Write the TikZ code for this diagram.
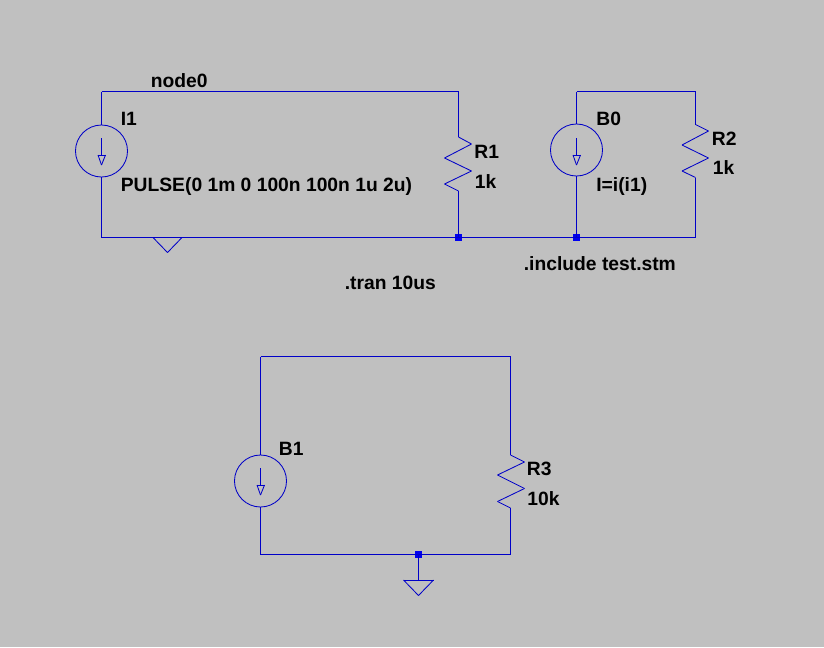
\documentclass[tikz,border=0pt]{standalone}
\usepackage{fontspec}
\setmainfont{Liberation Sans}
\definecolor{Panel}{HTML}{C0C0C0}
\definecolor{Wire}{HTML}{0000C8}
\definecolor{Dot}{HTML}{0000F0}
\tikzstyle{none}=[inner sep=0pt]
\tikzstyle{simple}=[-,draw=Wire,line width=1.3pt]
\tikzstyle{part}=[-,draw=Wire,line width=0.6pt]
\tikzstyle{source}=[circle,draw=Wire,line width=0.6pt,inner sep=0pt,minimum size=1.3cm]
\tikzstyle{dot}=[rectangle,fill=Dot,inner sep=0pt,minimum size=0.18cm]
\tikzstyle{label}=[inner sep=0pt,anchor=base west,font=\bfseries\fontsize{13.7}{15}\selectfont,text=black,xshift=-0.3pt,yshift=-0.5pt]

\begin{document}
\begin{tikzpicture}[x=0.025cm,y=-0.025cm]
  \useasboundingbox (0,0) rectangle (824,647);
  \fill [Panel] (0,0) rectangle (824,647);
  % top left loop
  \node [style=none] (0) at (101.5, 91.5) {};
  \node [style=none] (1) at (458.5, 91.5) {};
  \node [style=none] (2) at (101.5, 237.5) {};
  \node [style=dot] (3) at (458.5, 237.5) {};
  \node [style=source] (4) at (101.5, 151) {};
  \node [style=none] (5) at (101.5, 138) {};
  \node [style=none] (6) at (101.5, 155) {};
  \node [style=none] (7) at (98, 155) {};
  \node [style=none] (8) at (105.5, 155) {};
  \node [style=none] (9) at (101.5, 165) {};
  \node [style=none] (10) at (153, 237.5) {};
  \node [style=none] (11) at (167.5, 252.5) {};
  \node [style=none] (12) at (182, 237.5) {};
  \node [style=none] (13) at (458.5, 137) {};
  \node [style=none] (14) at (471.5, 144) {};
  \node [style=none] (15) at (444.5, 158) {};
  \node [style=none] (16) at (471.5, 171) {};
  \node [style=none] (17) at (444.5, 184) {};
  \node [style=none] (18) at (458.5, 191) {};
  % top right loop
  \node [style=dot] (19) at (576.5, 237.5) {};
  \node [style=none] (20) at (576.5, 91.5) {};
  \node [style=none] (21) at (695.5, 91.5) {};
  \node [style=none] (22) at (695.5, 237.5) {};
  \node [style=source] (23) at (576.5, 150) {};
  \node [style=none] (24) at (576.5, 138) {};
  \node [style=none] (25) at (576.5, 155) {};
  \node [style=none] (26) at (573, 155) {};
  \node [style=none] (27) at (580.5, 155) {};
  \node [style=none] (28) at (576.5, 165) {};
  \node [style=none] (29) at (695.5, 124.5) {};
  \node [style=none] (30) at (708.5, 131) {};
  \node [style=none] (31) at (682, 145) {};
  \node [style=none] (32) at (708.5, 158) {};
  \node [style=none] (33) at (682, 171) {};
  \node [style=none] (34) at (695.5, 177.5) {};
  % bottom loop
  \node [style=none] (35) at (260.5, 356.5) {};
  \node [style=none] (36) at (510.5, 356.5) {};
  \node [style=none] (37) at (260.5, 554.5) {};
  \node [style=none] (38) at (510.5, 554.5) {};
  \node [style=dot] (39) at (418.5, 554.5) {};
  \node [style=source] (40) at (260.5, 481) {};
  \node [style=none] (41) at (260.5, 468) {};
  \node [style=none] (42) at (260.5, 485) {};
  \node [style=none] (43) at (257, 485) {};
  \node [style=none] (44) at (264.5, 485) {};
  \node [style=none] (45) at (260.5, 495) {};
  \node [style=none] (46) at (510.5, 455) {};
  \node [style=none] (47) at (524.5, 462) {};
  \node [style=none] (48) at (497.5, 475) {};
  \node [style=none] (49) at (524.5, 488.5) {};
  \node [style=none] (50) at (497.5, 501.5) {};
  \node [style=none] (51) at (510.5, 508) {};
  \node [style=none] (52) at (418.5, 580) {};
  \node [style=none] (53) at (403.5, 580) {};
  \node [style=none] (54) at (433.5, 580) {};
  \node [style=none] (55) at (418.5, 595.5) {};
  % texts
  \node [style=label] (56) at (151, 86.5) {node0};
  \node [style=label] (57) at (121, 125) {I1};
  \node [style=label] (58) at (121, 191) {PULSE(0 1m 0 100n 100n 1u 2u)};
  \node [style=label] (59) at (474.5, 157.5) {R1};
  \node [style=label] (60) at (475, 187.5) {1k};
  \node [style=label] (61) at (596.5, 124.5) {B0};
  \node [style=label] (62) at (596.5, 191) {I=i(i1)};
  \node [style=label] (63) at (712, 145) {R2};
  \node [style=label] (64) at (713, 174) {1k};
  \node [style=label] (65) at (524, 269.5) {.include test.stm};
  \node [style=label] (66) at (345, 289) {.tran 10us};
  \node [style=label] (67) at (279, 455) {B1};
  \node [style=label] (68) at (527, 475) {R3};
  \node [style=label] (69) at (527.5, 505) {10k};
  % wires
  \draw [style=simple] (4.north) to (0.center);
  \draw [style=simple] (0.center) to (1.center);
  \draw [style=simple] (1.center) to (13.center);
  \draw [style=simple] (18.center) to (3.center);
  \draw [style=simple] (4.south) to (2.center);
  \draw [style=simple] (2.center) to (3.center);
  \draw [style=simple] (3.center) to (19.center);
  \draw [style=simple] (19.center) to (22.center);
  \draw [style=simple] (19.center) to (23.south);
  \draw [style=simple] (23.north) to (20.center);
  \draw [style=simple] (20.center) to (21.center);
  \draw [style=simple] (21.center) to (29.center);
  \draw [style=simple] (34.center) to (22.center);
  \draw [style=simple] (40.north) to (35.center);
  \draw [style=simple] (35.center) to (36.center);
  \draw [style=simple] (36.center) to (46.center);
  \draw [style=simple] (51.center) to (38.center);
  \draw [style=simple] (38.center) to (37.center);
  \draw [style=simple] (37.center) to (40.south);
  \draw [style=simple] (39.center) to (52.center);
  % arrows in sources
  \draw [style=part] (5.center) to (6.center);
  \draw [style=part] (7.center) to (8.center);
  \draw [style=part] (8.center) to (9.center);
  \draw [style=part] (9.center) to (7.center);
  \draw [style=part] (24.center) to (25.center);
  \draw [style=part] (26.center) to (27.center);
  \draw [style=part] (27.center) to (28.center);
  \draw [style=part] (28.center) to (26.center);
  \draw [style=part] (41.center) to (42.center);
  \draw [style=part] (43.center) to (44.center);
  \draw [style=part] (44.center) to (45.center);
  \draw [style=part] (45.center) to (43.center);
  % grounds
  \draw [style=part] (10.center) to (11.center);
  \draw [style=part] (11.center) to (12.center);
  \draw [style=part] (53.center) to (54.center);
  \draw [style=part] (54.center) to (55.center);
  \draw [style=part] (55.center) to (53.center);
  % resistors
  \draw [style=part] (13.center) to (14.center);
  \draw [style=part] (14.center) to (15.center);
  \draw [style=part] (15.center) to (16.center);
  \draw [style=part] (16.center) to (17.center);
  \draw [style=part] (17.center) to (18.center);
  \draw [style=part] (29.center) to (30.center);
  \draw [style=part] (30.center) to (31.center);
  \draw [style=part] (31.center) to (32.center);
  \draw [style=part] (32.center) to (33.center);
  \draw [style=part] (33.center) to (34.center);
  \draw [style=part] (46.center) to (47.center);
  \draw [style=part] (47.center) to (48.center);
  \draw [style=part] (48.center) to (49.center);
  \draw [style=part] (49.center) to (50.center);
  \draw [style=part] (50.center) to (51.center);
\end{tikzpicture}
\end{document}
